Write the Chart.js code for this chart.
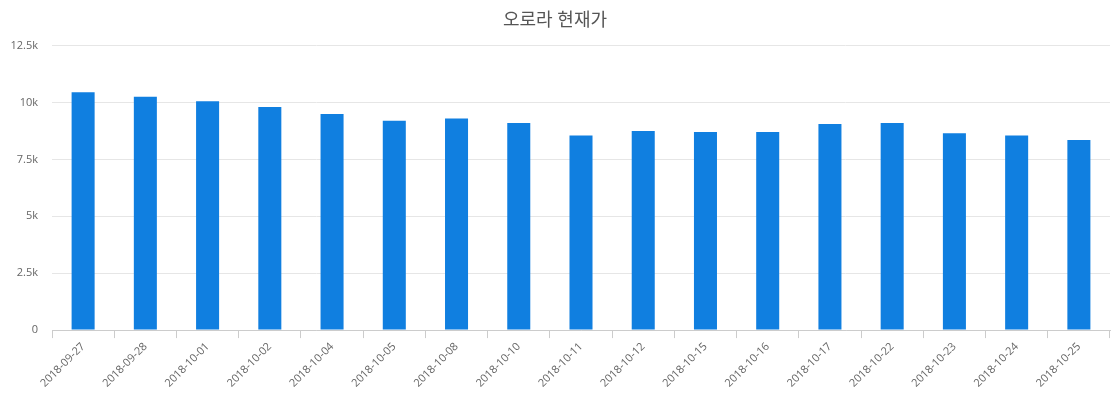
<!DOCTYPE html>
<html>
<head>
<meta charset="utf-8">
<script src="https://cdn.jsdelivr.net/npm/chart.js@4"></script>
<style>
  html, body { margin: 0; padding: 0; background: #fff; }
  #wrap { width: 1120px; height: 400px; }
</style>
</head>
<body>
<div id="wrap"><canvas id="priceChart"></canvas></div>
<script>
const dates = [
    '2018-09-27', '2018-09-28', '2018-10-01', '2018-10-02', '2018-10-04', '2018-10-05',
    '2018-10-08', '2018-10-10', '2018-10-11', '2018-10-12', '2018-10-15', '2018-10-16',
    '2018-10-17', '2018-10-22', '2018-10-23', '2018-10-24', '2018-10-25'
];
const prices = [
    10450, 10250, 10050, 9800, 9500, 9200,
    9300, 9100, 8550, 8750, 8700, 8700,
    9050, 9100, 8650, 8550, 8350
];
const yTicks = [0, 2500, 5000, 7500, 10000, 12500];

const fontFamily = "'Open Sans', 'Noto Sans CJK KR', sans-serif";

function formatK(v) {
    return v === 0 ? '0' : (v / 1000) + 'k';
}

const ctx = document.getElementById('priceChart').getContext('2d');
const chart = new Chart(ctx, {
    type: 'bar',
    data: {
        labels: dates,
        datasets: [{
            label: '현재가',
            data: prices,
            backgroundColor: '#107fe0',
            barPercentage: 0.74,
            categoryPercentage: 0.5
        }]
    },
    options: {
        responsive: true,
        maintainAspectRatio: false,
        animation: false,
        layout: { padding: { left: 0, right: 10, top: 6, bottom: 8 } },
        plugins: {
            legend: { display: false },
            tooltip: { enabled: false },
            title: {
                display: true,
                text: '오로라 현재가',
                color: '#555',
                font: { family: fontFamily, size: 18, weight: 'normal' },
                padding: { top: 4, bottom: 14 }
            }
        },
        scales: {
            x: {
                offset: true,
                grid: {
                    display: true,
                    offset: true,
                    drawOnChartArea: false,
                    drawTicks: true,
                    tickLength: 8,
                    color: '#ccc'
                },
                border: { display: true, color: '#ccc' },
                ticks: {
                    color: '#666',
                    font: { family: fontFamily, size: 11 },
                    maxRotation: 45,
                    minRotation: 45,
                    autoSkip: false,
                    padding: 2
                }
            },
            y: {
                min: 0,
                max: 12500,
                afterBuildTicks: (axis) => {
                    axis.ticks = yTicks.map(v => ({ value: v }));
                },
                afterFit: (axis) => {
                    axis.width = 52;
                },
                grid: {
                    color: '#e6e6e6',
                    drawTicks: false
                },
                border: { display: false },
                ticks: {
                    color: '#666',
                    font: { family: fontFamily, size: 11 },
                    padding: 14,
                    callback: (v) => formatK(v)
                }
            }
        }
    }
});
</script>
</body>
</html>
